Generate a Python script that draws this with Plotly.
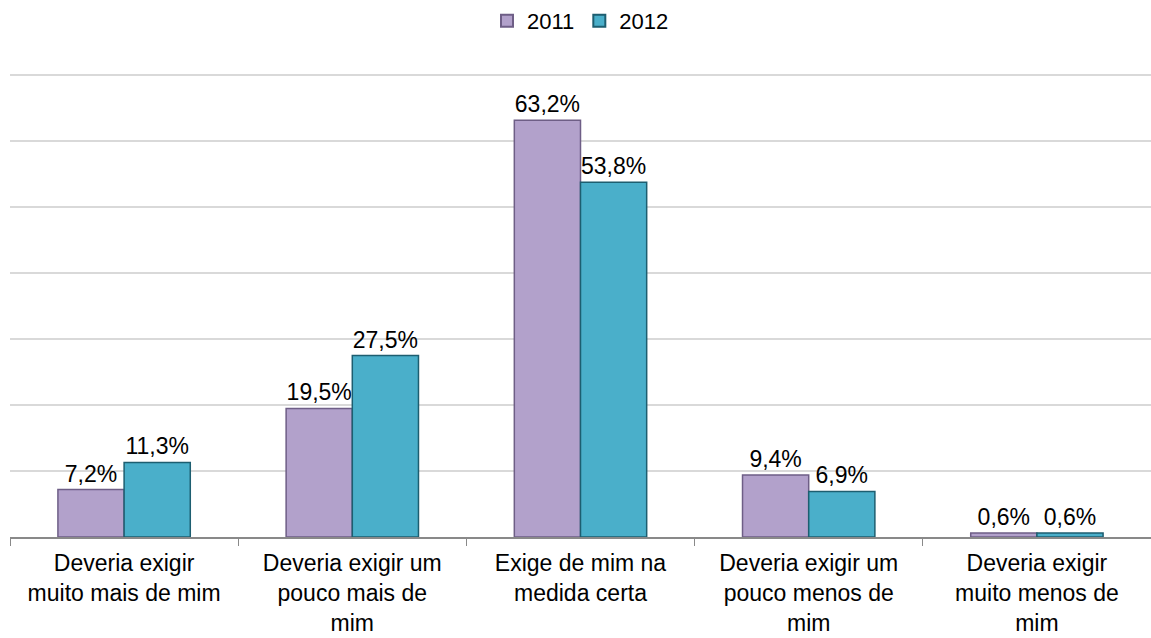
import plotly.graph_objects as go

categories = [
    "Deveria exigir<br>muito mais de mim",
    "Deveria exigir um<br>pouco mais de<br>mim",
    "Exige de mim na<br>medida certa",
    "Deveria exigir um<br>pouco menos de<br>mim",
    "Deveria exigir<br>muito menos de<br>mim",
]
values_2011 = [7.2, 19.5, 63.2, 9.4, 0.6]
values_2012 = [11.3, 27.5, 53.8, 6.9, 0.6]

font = "Liberation Sans, Arial, sans-serif"

fig = go.Figure()
fig.add_trace(go.Bar(
    name="2011", x=categories, y=values_2011,
    marker=dict(color="#B2A1CB", line=dict(color="#6E5E86", width=1.5)),
    texttemplate="%{y:.1f}%", textposition="outside",
    textfont=dict(size=23, color="#000000", family=font), cliponaxis=False,
))
fig.add_trace(go.Bar(
    name="2012", x=categories, y=values_2012,
    marker=dict(color="#4AAFCA", line=dict(color="#1D5E70", width=1.5)),
    texttemplate="%{y:.1f}%", textposition="outside",
    textfont=dict(size=23, color="#000000", family=font), cliponaxis=False,
))

fig.update_layout(
    width=1151, height=638,
    paper_bgcolor="white", plot_bgcolor="white",
    separators=",.",
    barmode="group", bargap=0.42, bargroupgap=0,
    margin=dict(l=10, r=0, t=72, b=101, autoexpand=False),
    font=dict(family=font, size=23, color="#000000"),
    legend=dict(orientation="h", x=0.5, xanchor="center", y=1.0, yanchor="top",
                yref="container", font=dict(size=22), itemwidth=30,
                traceorder="normal", itemsizing="constant"),
    showlegend=True,
)
fig.update_xaxes(showline=True, linecolor="#898989", linewidth=1.5,
                 ticks="outside", tickson="boundaries", ticklen=7, tickcolor="#898989",
                 automargin=False, ticklabelstandoff=5,
                 tickfont=dict(size=23, family=font, color="#000000"))
fig.update_yaxes(range=[0, 70.5], dtick=10, showticklabels=False, automargin=False,
                 showgrid=True, gridcolor="#D9D9D9", gridwidth=2, zeroline=False)

fig.write_html("out.html", config={"displayModeBar": False},
               post_script="document.body.style.margin='0';document.body.style.padding='0';")
